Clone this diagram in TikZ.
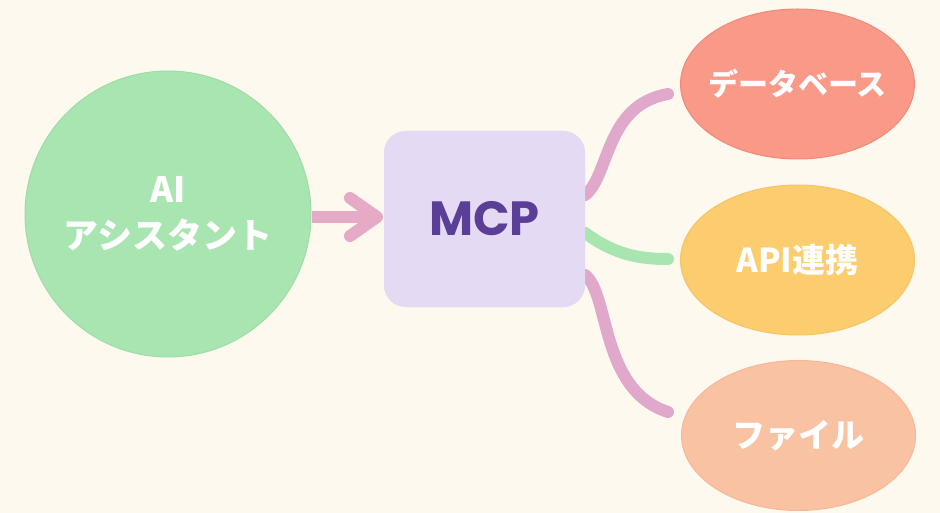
\documentclass[tikz,border=0pt]{standalone}
\usepackage{fontspec}
\setmainfont{Noto Sans CJK JP}
\newfontfamily\popfont{Poppins}
\usetikzlibrary{shapes.geometric,calc}
\definecolor{bg}{HTML}{FDF9EE}
\definecolor{aigreen}{HTML}{A9E5B1}
\definecolor{aigreenb}{HTML}{9EDDA7}
\definecolor{mcpfill}{HTML}{E5DAF3}
\definecolor{mcptext}{HTML}{5B3E95}
\definecolor{dbfill}{HTML}{F99987}
\definecolor{dbborder}{HTML}{F3897A}
\definecolor{apifill}{HTML}{FBCD6E}
\definecolor{apiborder}{HTML}{F6C465}
\definecolor{filefill}{HTML}{F9C3A3}
\definecolor{fileborder}{HTML}{F5B999}
\definecolor{pinkline}{HTML}{E0A8CB}
\definecolor{arrowpink}{HTML}{E6A9C6}
\definecolor{greenline}{HTML}{A9E5B1}
\tikzset{
  blob/.style={ellipse, minimum width=234pt, minimum height=150pt, inner sep=0pt, line width=1pt},
  blobtext/.style={text=white, font=\bfseries\fontsize{33}{36}\selectfont},
  conn/.style={line width=12pt, line cap=round},
  mcpbox/.style={rounded corners=22pt, minimum width=201pt, minimum height=176pt, fill=mcpfill, inner sep=0pt},
}
\begin{document}
\begin{tikzpicture}[x=1pt,y=-1pt]
\fill[bg] (0,0) rectangle (940,513);
\useasboundingbox (0,0) rectangle (940,513);
\node[circle, minimum size=286pt, inner sep=0pt, fill=aigreen, draw=aigreenb, line width=1pt, text=white, align=center, font=\bfseries\fontsize{35}{46}\selectfont] (ai) at (168,214) {AI\\アシスタント};
\node[mcpbox] (mcp) at (484.5,219) {};
\node[blob, fill=dbfill, draw=dbborder, label={[blobtext, font=\bfseries\fontsize{30}{34}\selectfont]center:データベース}] (db) at (797.5,84) {};
\node[blob, fill=apifill, draw=apiborder, label={[blobtext]center:API連携}] (api) at (797.5,260) {};
\node[blob, fill=filefill, draw=fileborder, label={[blobtext]center:ファイル}] (file) at (798.5,435.5) {};
\coordinate (tip) at (377,217);
\coordinate (e1) at (668,94);
\coordinate (e2) at (668,259);
\coordinate (e3) at (668,412);
\draw[conn, pinkline] ([yshift=24pt]mcp.east) .. controls (610,175) and (605,105) .. (e1);
\draw[conn, greenline] ([yshift=-14pt]mcp.east) .. controls (615,255) and (640,259) .. (e2);
\draw[conn, pinkline] ([yshift=-56pt]mcp.east) .. controls (610,295) and (600,390) .. (e3);
% box on top of connector starts
\node[mcpbox, text=mcptext, font=\popfont\bfseries\fontsize{48}{50}\selectfont] at (mcp.center) {MCP};
% arrow
\draw[conn, arrowpink, line cap=butt] (ai.east |- tip) -- (tip);
\draw[conn, arrowpink, line join=round] ([shift={(-27,-19)}]tip) -- (tip) -- ([shift={(-27,19)}]tip);
\end{tikzpicture}
\end{document}
